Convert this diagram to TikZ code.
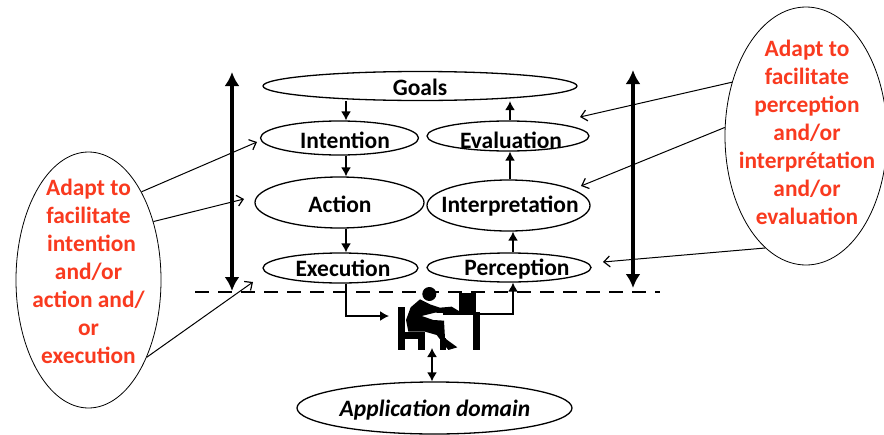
\documentclass[tikz,border=0pt]{standalone}
\usepackage{fontspec}
\setmainfont{Carlito}
\usetikzlibrary{shapes.geometric,arrows.meta}
\definecolor{adaptred}{HTML}{F93A1F}
\tikzset{
  x=1pt,y=-1pt,
  stage/.style={draw=black,line width=1.3pt,ellipse,fill=white,inner sep=0pt},
  stagetext/.style={font=\fontsize{23.5}{28}\selectfont\bfseries,inner sep=0pt,text=black},
  note/.style={draw=black,line width=0.8pt,ellipse,fill=white,inner sep=0pt},
  notetext/.style={font=\fontsize{23.4}{27.9}\selectfont\bfseries,align=center,inner sep=0pt,text=adaptred},
  flow/.style={line width=1.4pt,-{Latex[length=9pt,width=10pt]}},
  bothflow/.style={line width=1.4pt,{Latex[length=9pt,width=10pt]}-{Latex[length=9pt,width=10pt]}},
  adapt/.style={line width=1pt,-{Straight Barb[length=6pt,width=11pt,line width=1.2pt]}},
  span/.style={line width=3.6pt,{Latex[length=14pt,width=15pt]}-{Latex[length=14pt,width=15pt]}},
}
\begin{document}
\begin{tikzpicture}
\clip (0,0) rectangle (884,434);
\fill[white] (0,0) rectangle (884,434);
% stages
\node[stage,minimum width=314pt,minimum height=29pt] (goals) at (420,86) {};
\node[stage,minimum width=158pt,minimum height=34pt] (intention) at (339.5,138) {};
\node[stage,minimum width=169pt,minimum height=51pt] (action) at (339.5,202.5) {};
\node[stage,minimum width=155pt,minimum height=30pt] (execution) at (340.5,268) {};
\node[stage,minimum width=162pt,minimum height=30pt] (evaluation) at (508,136) {};
\node[stage,minimum width=163pt,minimum height=51pt] (interpretation) at (508.5,205.5) {};
\node[stage,minimum width=164pt,minimum height=29pt] (perception) at (509,267.5) {};
\node[stage,minimum width=275pt,minimum height=52pt] (appdomain) at (434.5,408) {};
% side notes
\node[note,minimum width=145pt,minimum height=256pt] (leftnote) at (88.5,280) {};
\node[note,minimum width=162pt,minimum height=258pt] (rightnote) at (806,136) {};
% labels
\node[stagetext,anchor=base] (tgoals) at (420,95) {Goals};
\node[stagetext,anchor=base] (tintention) at (345,148) {Intention};
\node[stagetext,anchor=base] (taction) at (340,212) {Action};
\node[stagetext,anchor=base] (texecution) at (343,276) {Execution};
\node[stagetext,anchor=base] (tevaluation) at (511,148) {Evaluation};
\node[stagetext,anchor=base] (tinterpretation) at (510,212) {Interpretation};
\node[stagetext,anchor=base] (tperception) at (517,275) {Perception};
\node[stagetext,anchor=base,font=\fontsize{23.5}{28}\selectfont\bfseries\itshape] (tapp) at (435,416) {Application domain};
\node[notetext] (tleft) at (88.5,271.5) {Adapt to\\facilitate\\\hspace*{6pt}intention\\and/or\\action and/\\or\\execution};
\node[notetext] (tright) at (807,132.5) {Adapt to\\facilitate\\perception\\and/or\\interprétation\\and/or\\evaluation};
% dashed boundary
\coordinate (dashstart) at (195,292);
\coordinate (dashend) at (660,292);
\draw[line width=1.3pt,dash pattern=on 14pt off 9pt] (dashstart) -- (dashend);
% person
\begin{scope}[shift={(380,270)},x=0.3333pt,y=-0.3333pt]
\fill[black] (148,72) circle[radius=21];
\fill[black] (55,110) rectangle (75,240);
\fill[black] (70,186) rectangle (135,206);
\fill[black] (115,186) rectangle (135,240);
\fill[black] (190,125) rectangle (300,135);
\fill[black] (280,125) rectangle (300,240);
\fill[black] (180,205) rectangle (198,240);
\fill[black] (237,70) rectangle (288,128);
\fill[black] (120,88) -- (150,103) -- (180,113) -- (215,110) -- (245,128) -- (210,130) -- (165,128) -- (125,138)
  -- (160,150) -- (192,152) -- (195,205) -- (232,232) -- (205,240) -- (170,195) -- (135,185) -- (85,185) -- (78,150) -- (92,112) -- cycle;
\end{scope}
\node[inner sep=0pt,minimum width=82pt,minimum height=64pt] (person) at (439,319) {};
\coordinate (chairside) at (389,316);
\coordinate (deskside) at (480,314);
\coordinate (feet) at (432,348);
% flows
\coordinate (leftflow) at (346,200);
\coordinate (rightflow) at (510,200);
\coordinate (percflow) at (513,300);
\draw[flow] (goals.south -| leftflow) -- (intention.north -| leftflow);
\draw[flow] (intention.south -| leftflow) -- (action.north -| leftflow);
\draw[flow] (action.south -| leftflow) -- (execution.north -| leftflow);
\draw[flow] (perception.north -| percflow) -- (interpretation.south -| percflow);
\draw[flow] (interpretation.north -| rightflow) -- (evaluation.south -| rightflow);
\draw[flow] (evaluation.north -| rightflow) -- (goals.south -| rightflow);
\draw[flow] (execution.south -| leftflow) |- (chairside);
\draw[flow] (deskside) -| (perception.south -| percflow);
\draw[bothflow] (feet) -- (appdomain.north -| feet);
% span arrows
\coordinate (lefttop) at (232,72);
\coordinate (leftbottom) at (232,291);
\coordinate (righttop) at (633,70);
\coordinate (rightbottom) at (633,288);
\draw[span] (lefttop) -- (leftbottom);
\draw[span] (righttop) -- (rightbottom);
% adaptation arrows
\coordinate (tipint) at (257,142);
\coordinate (tipact) at (244,199);
\coordinate (tipexe) at (253,282);
\coordinate (tipeva) at (580,117);
\coordinate (tipinp) at (581,186);
\coordinate (tipper) at (603,262);
\draw[adapt] (leftnote.59.7) -- (tipint);
\draw[adapt] (leftnote.42) -- (tipact);
\draw[adapt] (leftnote.-53) -- (tipexe);
\draw[adapt] (rightnote.144) -- (tipeva);
\draw[adapt] (rightnote.174.5) -- (tipinp);
\draw[adapt] (rightnote.250.6) -- (tipper);
\end{tikzpicture}
\end{document}
